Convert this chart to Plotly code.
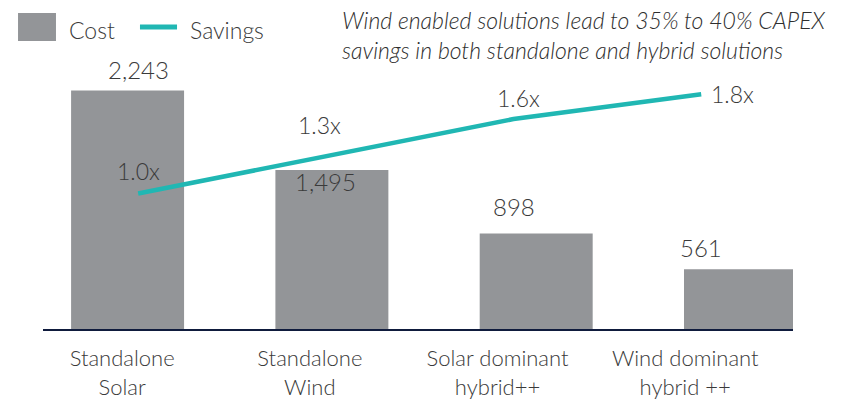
"""
    Wind vs solar CAPEX comparison: cost bars with savings multiple line
"""
import plotly.graph_objects as go

CATEGORIES = [
    "Standalone<br>Solar",
    "Standalone<br>Wind",
    "Solar dominant<br>hybrid++",
    "Wind dominant<br>hybrid ++",
]
COST = [2243, 1495, 898, 561]
SAVINGS = [1.0, 1.3, 1.6, 1.8]
SAVINGS_LABELS = ["1.0x", "1.3x", "1.6x", "1.8x"]
TITLE_TEXT = (
    "Wind enabled solutions lead to 35% to 40% CAPEX<br>"
    "savings in both standalone and hybrid solutions"
)

GREY = "#939598"
TEAL = "#20b7b3"
TEXT = "#3a3a3a"
NAVY = "#0f1b3d"
FONT = "Lato, 'Open Sans', sans-serif"

# label offsets (pixels) - the source chart places these by hand
COST_LABEL_YSHIFT = [21, -11, 27, 22]
SAVINGS_LABEL_SHIFT = [(0, 22), (-6, 31), (5, 21), (31, 0)]

fig = go.Figure()

fig.add_trace(
    go.Bar(
        x=CATEGORIES,
        y=COST,
        width=0.553,
        marker=dict(color=GREY, line=dict(width=0)),
        name="Cost",
        showlegend=False,
        hoverinfo="skip",
    )
)

fig.add_trace(
    go.Scatter(
        x=CATEGORIES,
        y=SAVINGS,
        xaxis="x2",
        yaxis="y2",
        mode="lines",
        line=dict(color=TEAL, width=4.5),
        name="Savings",
        showlegend=False,
        hoverinfo="skip",
    )
)

annotations = []
for cat, val, ys in zip(CATEGORIES, COST, COST_LABEL_YSHIFT):
    annotations.append(
        dict(
            x=cat, y=val, xref="x2", yref="y",
            text=f"{val:,}", showarrow=False,
            yanchor="middle", yshift=ys,
            font=dict(family=FONT, size=24, color=TEXT, weight=300),
        )
    )
for cat, val, lab, (xs, ys) in zip(CATEGORIES, SAVINGS, SAVINGS_LABELS, SAVINGS_LABEL_SHIFT):
    annotations.append(
        dict(
            x=cat, y=val, xref="x2", yref="y2",
            text=lab, showarrow=False,
            yanchor="middle", xshift=xs, yshift=ys,
            font=dict(family=FONT, size=23, color=TEXT, weight=300),
        )
    )

# title block
annotations.append(
    dict(
        x=0.396, y=0.951, xref="paper", yref="paper",
        xanchor="left", yanchor="middle", align="left",
        text=TITLE_TEXT, showarrow=False,
        font=dict(family=FONT, size=23, color="#2e2e2e", style="italic", weight=300),
    )
)

# custom legend
annotations.append(
    dict(
        x=0.032, y=0.9676, xref="paper", yref="paper",
        xanchor="left", yanchor="middle", text="Cost", showarrow=False,
        font=dict(family=FONT, size=23, color=TEXT, weight=300),
    )
)
annotations.append(
    dict(
        x=0.1933, y=0.9676, xref="paper", yref="paper",
        xanchor="left", yanchor="middle", text="Savings", showarrow=False,
        font=dict(family=FONT, size=23, color=TEXT, weight=300),
    )
)

shapes = [
    dict(
        type="rect", xref="paper", yref="paper",
        x0=-0.0333, x1=0.0173, y0=0.932, y1=1.0227,
        fillcolor=GREY, line=dict(width=0),
    ),
    dict(
        type="line", xref="paper", yref="paper",
        x0=0.1293, x1=0.1787, y0=0.977, y1=0.977,
        line=dict(color=TEAL, width=5),
    ),
]

fig.update_layout(
    width=868,
    height=400,
    margin=dict(l=43, r=75, t=20, b=71),
    paper_bgcolor="white",
    plot_bgcolor="white",
    font=dict(family=FONT, color=TEXT),
    xaxis=dict(
        type="category",
        range=[-0.414, 3.257],
        showticklabels=False,
        showgrid=False,
        showline=True,
        linecolor=NAVY,
        linewidth=2,
        ticks="",
        zeroline=False,
        automargin=False,
    ),
    xaxis2=dict(
        type="category",
        overlaying="x",
        anchor="y",
        side="bottom",
        range=[-0.507, 3.489],
        showgrid=False,
        showline=False,
        ticks="",
        ticklabelshift=-16,
        ticklabelstandoff=14,
        tickfont=dict(family=FONT, size=22, color=TEXT, weight=300),
        automargin=False,
    ),
    yaxis=dict(
        range=[0, 2907],
        visible=False,
        showgrid=False,
        zeroline=False,
        automargin=False,
    ),
    yaxis2=dict(
        range=[-0.093, 2.399],
        overlaying="y",
        visible=False,
        showgrid=False,
        zeroline=False,
        automargin=False,
    ),
    annotations=annotations,
    shapes=shapes,
    showlegend=False,
)

# drop the browser's default 8px body margin so the figure fills the window
fig.write_html(
    "out.html",
    config={"displayModeBar": False},
    post_script="document.body.style.margin='0';document.body.style.overflow='hidden';",
)
